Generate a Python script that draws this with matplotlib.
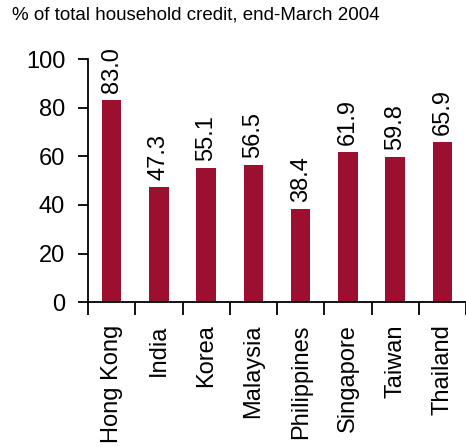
import matplotlib.pyplot as plt
import numpy as np

plt.rcParams["font.family"] = ["Liberation Sans", "DejaVu Sans"]

# Share of total household credit by economy, end-March 2004
countries = ["Hong Kong", "India", "Korea", "Malaysia", "Philippines",
             "Singapore", "Taiwan", "Thailand"]
shares = [83.0, 47.3, 55.1, 56.5, 38.4, 61.9, 59.8, 65.9]

BAR_COLOR = "#9c0f2f"

fig = plt.figure(figsize=(4.66, 4.47), dpi=100)
ax = fig.add_axes([0.189, 0.324, 0.811, 0.544])

x = np.arange(len(countries))
bars = ax.bar(x, shares, width=0.41, color=BAR_COLOR)

# Value labels, rotated to sit vertically above each bar
for bar, val in zip(bars, shares):
    ax.annotate("{:.1f}".format(val),
                (bar.get_x() + bar.get_width() / 2, val),
                xytext=(0, 5), textcoords="offset points",
                rotation=90, ha="center", va="bottom", fontsize=17)

ax.set_ylim(0, 100)
ax.set_xlim(-0.5, 7.4)
ax.set_yticks(range(0, 101, 20))
ax.tick_params(axis="y", direction="out", length=7, width=1.3, pad=9.5,
               labelsize=17)

# Country names centred in each slot, tick marks on the slot boundaries
ax.set_xticks(x)
ax.set_xticklabels(countries, rotation=90, fontsize=17)
ax.tick_params(axis="x", which="major", length=0, pad=16)
ax.set_xticks(np.arange(-0.5, len(countries), 1.0), minor=True)
ax.tick_params(axis="x", which="minor", direction="out", length=9, width=1.3)

for side in ("top", "right"):
    ax.spines[side].set_visible(False)
for side in ("left", "bottom"):
    ax.spines[side].set_linewidth(1.3)

fig.text(0.026, 0.967, "% of total household credit, end-March 2004",
         ha="left", va="center", fontsize=13.5)

fig.savefig("out.png", dpi=100)
